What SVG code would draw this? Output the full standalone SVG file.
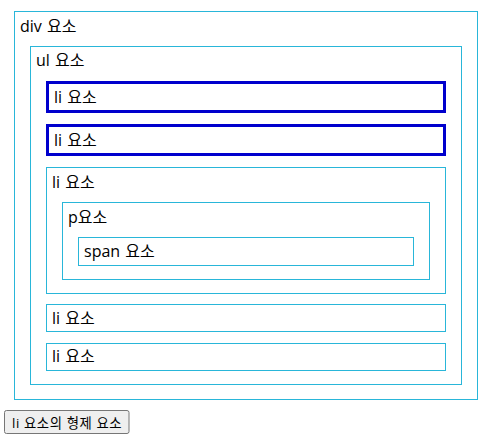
<svg xmlns="http://www.w3.org/2000/svg" width="493" height="441" viewBox="0 0 493 441">
<style>
  .box { fill: none; stroke: #29b6d9; stroke-width: 1; }
  .sel { fill: none; stroke: #0000cd; stroke-width: 3; }
  .t { font-family: "Open Sans", "Noto Sans CJK KR", sans-serif; font-size: 16px; fill: #000; word-spacing: 1px; }
  .bt { font-family: "Open Sans", "Noto Sans CJK KR", sans-serif; font-size: 13.33px; fill: #000; letter-spacing: 0.6px; }
</style>
<rect width="493" height="441" fill="#fff"/>
<g id="div">
  <rect class="box" x="14.5" y="11.5" width="463" height="388"/>
  <text class="t" x="20" y="32">div 요소</text>
</g>
<g id="ul">
  <rect class="box" x="30.5" y="46.5" width="431" height="338"/>
  <text class="t" x="36" y="66">ul 요소</text>
</g>
<g id="li1">
  <rect class="sel" x="47.5" y="82.5" width="397" height="29"/>
  <text class="t" x="54" y="103">li 요소</text>
</g>
<g id="li2">
  <rect class="sel" x="47.5" y="125.5" width="397" height="29"/>
  <text class="t" x="54" y="146">li 요소</text>
</g>
<g id="li3">
  <rect class="box" x="46.5" y="167.5" width="399" height="126"/>
  <text class="t" x="52" y="188">li 요소</text>
</g>
<g id="p">
  <rect class="box" x="62.5" y="202.5" width="367" height="77"/>
  <text class="t" x="68" y="223">p요소</text>
</g>
<g id="span">
  <rect class="box" x="78.5" y="237.5" width="335" height="28"/>
  <text class="t" x="84" y="257">span 요소</text>
</g>
<g id="li4">
  <rect class="box" x="46.5" y="304.5" width="399" height="27"/>
  <text class="t" x="52" y="324">li 요소</text>
</g>
<g id="li5">
  <rect class="box" x="46.5" y="343.5" width="399" height="27"/>
  <text class="t" x="52" y="362">li 요소</text>
</g>
<g id="button">
  <rect x="4.5" y="410.5" width="124.5" height="23" rx="2" fill="#efefef" stroke="#767676" stroke-width="1"/>
  <text class="bt" x="12" y="427.5">li 요소의 형제 요소</text>
</g>
<g id="connectors"></g>
</svg>
